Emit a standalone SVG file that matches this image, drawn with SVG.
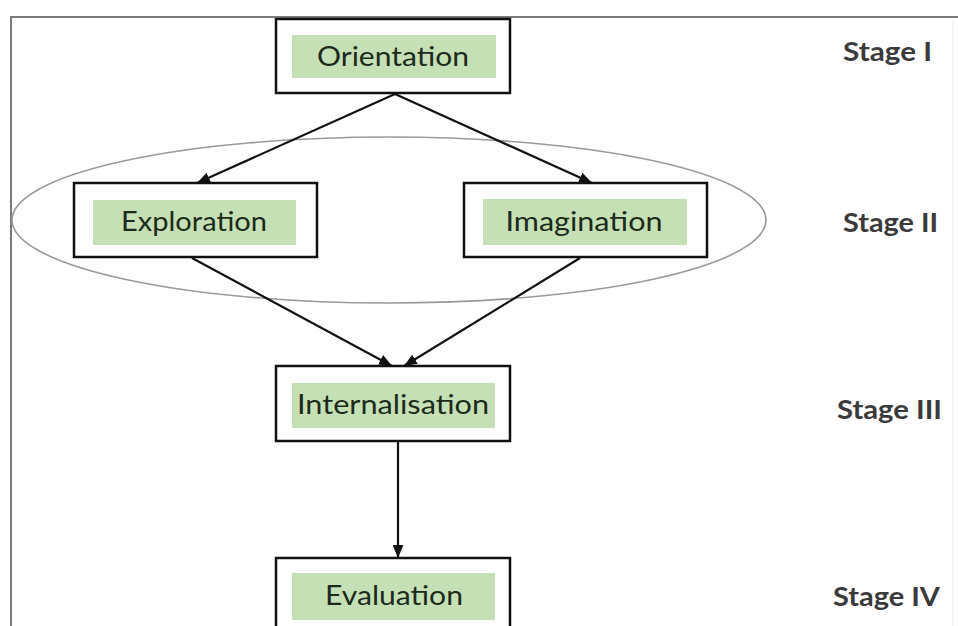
<svg xmlns="http://www.w3.org/2000/svg" width="958" height="626" viewBox="0 0 958 626">
<defs>
<marker id="arr" viewBox="0 0 12 10" refX="12" refY="5" markerWidth="13" markerHeight="11" markerUnits="userSpaceOnUse" orient="auto">
<path d="M0,0 L12,5 L0,10 z" fill="#111"/>
</marker>
<style>
.box{fill:#fff;stroke:#111;stroke-width:2.5}
.hl{fill:#c5e0b4}
.lbl{font-family:Lato,"Open Sans","Liberation Sans",sans-serif;font-size:26px;fill:#1c2a1c;text-anchor:middle}
.stage{font-family:Lato,"Open Sans","Liberation Sans",sans-serif;font-size:26px;font-weight:bold;fill:#3a3a3a}
.edge{stroke:#111;stroke-width:2.2;fill:none;marker-end:url(#arr)}
.frame{stroke:#7a7a7a;stroke-width:2;fill:none}
</style>
</defs>
<rect width="958" height="626" fill="#fff"/>
<path class="frame" d="M11,626 V17 H958"/>
<line x1="953" y1="20" x2="953" y2="626" stroke="#ececec" stroke-width="1"/>
<g id="group-stage2">
<ellipse cx="389" cy="220" rx="377" ry="83" fill="none" stroke="#9a9a9a" stroke-width="1.6"/>
</g>
<g id="connectors">
<line class="edge" x1="395" y1="94" x2="197" y2="183"/>
<line class="edge" x1="395" y1="94" x2="592" y2="183"/>
<line class="edge" x1="192" y1="258" x2="392" y2="366"/>
<line class="edge" x1="580" y1="258" x2="404" y2="366"/>
<line class="edge" x1="398" y1="441" x2="398" y2="558"/>
</g>
<g id="orientation">
<rect class="box" x="276" y="19" width="234" height="74"/>
<rect class="hl" x="292" y="35" width="204" height="43"/>
<text class="lbl" x="393" y="66" textLength="152" lengthAdjust="spacingAndGlyphs">Orientation</text>
</g>
<g id="exploration">
<rect class="box" x="74" y="183" width="243" height="74"/>
<rect class="hl" x="93" y="200" width="203" height="45"/>
<text class="lbl" x="194" y="231" textLength="146" lengthAdjust="spacingAndGlyphs">Exploration</text>
</g>
<g id="imagination">
<rect class="box" x="464" y="183" width="243" height="74"/>
<rect class="hl" x="483" y="199" width="204" height="46"/>
<text class="lbl" x="584" y="231" textLength="157" lengthAdjust="spacingAndGlyphs">Imagination</text>
</g>
<g id="internalisation">
<rect class="box" x="276" y="366" width="234" height="75"/>
<rect class="hl" x="292" y="383" width="203" height="45"/>
<text class="lbl" x="393" y="414" textLength="192" lengthAdjust="spacingAndGlyphs">Internalisation</text>
</g>
<g id="evaluation">
<rect class="box" x="276" y="558" width="234" height="80"/>
<rect class="hl" x="292" y="573" width="203" height="47"/>
<text class="lbl" x="394" y="605" textLength="138" lengthAdjust="spacingAndGlyphs">Evaluation</text>
</g>
<g id="stages">
<text class="stage" x="843" y="61" textLength="89" lengthAdjust="spacingAndGlyphs">Stage I</text>
<text class="stage" x="843" y="232" textLength="95" lengthAdjust="spacingAndGlyphs">Stage II</text>
<text class="stage" x="837" y="419" textLength="105" lengthAdjust="spacingAndGlyphs">Stage III</text>
<text class="stage" x="833" y="606" textLength="107" lengthAdjust="spacingAndGlyphs">Stage IV</text>
</g>
</svg>
